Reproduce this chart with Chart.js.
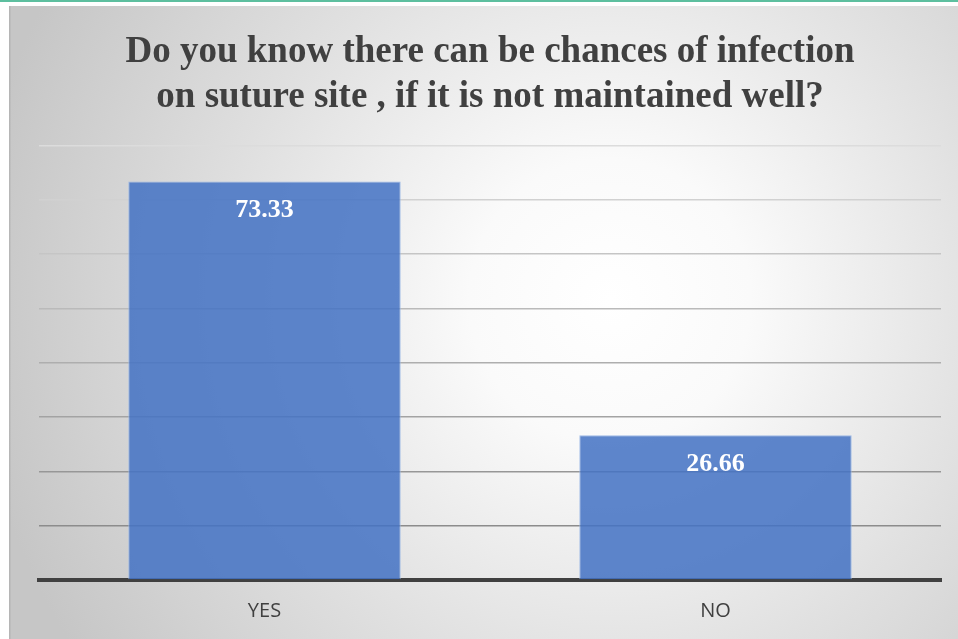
<!DOCTYPE html>
<html>
<head>
<meta charset="utf-8">
<script src="https://cdn.jsdelivr.net/npm/chart.js@4/dist/chart.umd.min.js"></script>
<style>
  html, body { margin: 0; padding: 0; background: #ffffff; }
  #wrap { width: 958px; height: 639px; position: relative; }
</style>
</head>
<body>
<div id="wrap"><canvas id="chart" width="958" height="639"></canvas></div>
<script>
// Survey answers and their percentages
const categories = ['YES', 'NO'];
const percentages = [73.33, 26.66];
const titleLines = ['Do you know there can be chances of infection', 'on suture site , if it is not maintained well?'];
const axisMax = 80;
const axisStep = 10;

// Gridline shades, lighter toward the top of the plot
function gridShade(value) {
  const t = Math.max(0, Math.min(1, value / axisMax));
  const c = Math.round(0x80 + t * (0xdc - 0x80));
  return 'rgb(' + c + ',' + c + ',' + c + ')';
}

// Slide-style backdrop: thin teal rule on top, soft radial grey panel
const backdrop = {
  id: 'backdrop',
  beforeDraw(chart) {
    const ctx = chart.ctx;
    const w = chart.width, h = chart.height;
    ctx.save();
    ctx.fillStyle = '#ffffff';
    ctx.fillRect(0, 0, w, h);
    ctx.fillStyle = '#5dbf9f';
    ctx.fillRect(0, 0, w, 2);
    const g = ctx.createRadialGradient(610, 300, 0, 610, 300, 640);
    g.addColorStop(0, '#ffffff');
    g.addColorStop(0.22, '#fafafa');
    g.addColorStop(0.6, '#e0e0e0');
    g.addColorStop(1, '#c6c6c6');
    ctx.fillStyle = g;
    ctx.fillRect(9, 6, w - 9, h - 6);
    ctx.fillStyle = 'rgba(150,150,150,0.35)';
    ctx.fillRect(9, 6, 1.5, h - 6);
    ctx.restore();
  }
};

// Value captions written inside the top of each bar
const valueLabels = {
  id: 'valueLabels',
  afterDatasetsDraw(chart) {
    const ctx = chart.ctx;
    const meta = chart.getDatasetMeta(0);
    ctx.save();
    ctx.fillStyle = '#ffffff';
    ctx.font = 'bold 26px "Liberation Serif", "Times New Roman", serif';
    ctx.textAlign = 'center';
    ctx.textBaseline = 'middle';
    meta.data.forEach((bar, i) => {
      ctx.fillText(percentages[i].toFixed(2), bar.x, bar.y + 29);
    });
    ctx.restore();
  }
};

new Chart(document.getElementById('chart'), {
  type: 'bar',
  data: {
    labels: categories,
    datasets: [{
      data: percentages,
      backgroundColor: 'rgba(68,114,196,0.86)',
      borderColor: 'rgba(150,180,228,0.9)',
      borderWidth: 1,
      categoryPercentage: 0.604,
      barPercentage: 1
    }]
  },
  options: {
    responsive: false,
    animation: false,
    events: [],
    layout: { padding: { left: 39, right: 17, top: 30, bottom: 17 } },
    plugins: {
      legend: { display: false },
      tooltip: { enabled: false },
      title: {
        display: true,
        text: titleLines,
        color: '#404040',
        font: { family: '"Liberation Serif", "Times New Roman", serif', size: 37, weight: 'bold', lineHeight: 1.22 },
        padding: { top: 0, bottom: 25 }
      }
    },
    scales: {
      x: {
        grid: { display: false, drawTicks: false },
        border: { display: true, color: '#404040', width: 4 },
        ticks: {
          color: '#404040',
          padding: 19,
          font: { family: '"Open Sans", "Liberation Sans", sans-serif', size: 20 }
        },
        afterFit(scale) { scale.height = 42; }
      },
      y: {
        min: 0,
        max: axisMax,
        ticks: { display: false, stepSize: axisStep },
        border: { display: false },
        grid: {
          drawTicks: false,
          lineWidth: 1.5,
          color: (ctx) => gridShade(ctx.tick ? ctx.tick.value : 0)
        }
      }
    }
  },
  plugins: [backdrop, valueLabels]
});
</script>
</body>
</html>
